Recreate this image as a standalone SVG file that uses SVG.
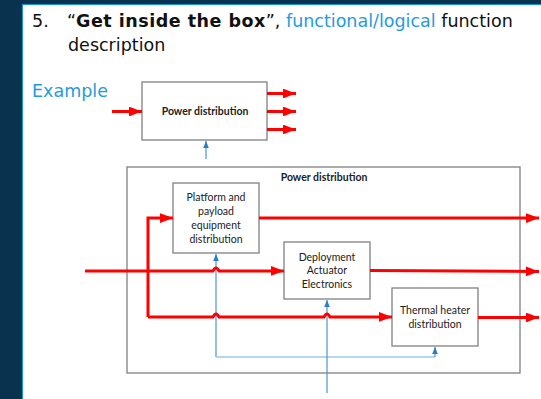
<svg xmlns="http://www.w3.org/2000/svg" width="541" height="399" viewBox="0 0 541 399">
<defs>
<style>
.title{font-family:"DejaVu Sans",sans-serif;font-size:17.5px;fill:#111}
.box{fill:#fff;stroke:#808080;stroke-width:1.3}
.lbl{font-family:Lato,"Liberation Sans",sans-serif;font-size:10.5px;fill:#222;text-anchor:middle}
.bold{font-weight:bold}
.red{fill:none;stroke:#ff0000;stroke-width:3}
.blue{fill:none;stroke:#4a96d4;stroke-width:1.2}
.blueL{fill:none;stroke:#9cc6e8;stroke-width:1.5}
</style>
<marker id="ar" viewBox="0 0 10 10" refX="10" refY="5" markerWidth="4.4" markerHeight="3.3" markerUnits="strokeWidth" orient="auto" preserveAspectRatio="none">
<path d="M0,0 L10,5 L0,10 z" fill="#ff0000"/>
</marker>
<marker id="ab" viewBox="0 0 10 10" refX="10" refY="5" markerWidth="6" markerHeight="6" markerUnits="strokeWidth" orient="auto">
<path d="M0,1 L10,5 L0,9 z" fill="#2a7cc4"/>
</marker>
</defs>
<rect x="0" y="0" width="541" height="399" fill="#08324e"/>
<rect x="22.5" y="4.5" width="530" height="400" fill="#fff" stroke="#1e8fd0" stroke-width="1.2"/>
<text class="title" y="27"><tspan x="32">5.</tspan><tspan x="67">“</tspan><tspan font-weight="bold" letter-spacing="0.5">Get inside the box</tspan><tspan>”, </tspan><tspan fill="#1f9bde">functional/logical</tspan><tspan> function</tspan></text>
<text class="title" x="68" y="51">description</text>
<text x="32" y="97" style="font-family:'DejaVu Sans',sans-serif;font-size:17.5px;fill:#1f9bde">Example</text>

<g id="top-box">
<rect class="box" x="142" y="82" width="125" height="58"/>
<text class="lbl bold" x="205" y="115">Power distribution</text>
</g>
<g id="outer-box">
<rect class="box" x="127" y="167" width="393" height="206"/>
<text class="lbl bold" x="324" y="181">Power distribution</text>
</g>
<g id="platform">
<rect class="box" x="173" y="183" width="86" height="70"/>
<text class="lbl" x="216" y="201">Platform and</text>
<text class="lbl" x="216" y="215">payload</text>
<text class="lbl" x="216" y="228.5">equipment</text>
<text class="lbl" x="216" y="242.5">distribution</text>
</g>
<g id="deployment">
<rect class="box" x="284" y="242" width="86" height="57"/>
<text class="lbl" x="327" y="260.5">Deployment</text>
<text class="lbl" x="327" y="274">Actuator</text>
<text class="lbl" x="327" y="287.5">Electronics</text>
</g>
<g id="thermal">
<rect class="box" x="392" y="288" width="86" height="58"/>
<text class="lbl" x="435" y="313.5">Thermal heater</text>
<text class="lbl" x="435" y="327.5">distribution</text>
</g>
<g id="connectors">
<path class="red" d="M112,111.5 H142" marker-end="url(#ar)"/>
<path class="red" d="M267,93.5 H296" marker-end="url(#ar)"/>
<path class="red" d="M267,111.5 H296" marker-end="url(#ar)"/>
<path class="red" d="M267,129.5 H296" marker-end="url(#ar)"/>
<path class="blue" d="M206,159 V141" marker-end="url(#ab)"/>

<path class="blue" d="M216,357 V254" marker-end="url(#ab)"/>
<path class="blueL" d="M216,357 H435"/>
<path class="blue" d="M435,357 V347" marker-end="url(#ab)"/>
<path class="blue" d="M327,393 V300" marker-end="url(#ab)"/>

<path class="red" d="M85,271 H213 Q216,265 219,271 H284" marker-end="url(#ar)"/>
<path class="red" d="M148,317 V218 H173" marker-end="url(#ar)"/>
<path class="red" d="M148,317 H213 Q216,311 219,317 H324 Q327,311 330,317 H392" marker-end="url(#ar)"/>
<path class="red" d="M259,218 H539" marker-end="url(#ar)"/>
<path class="red" d="M370,270.5 L539,271.5" marker-end="url(#ar)"/>
<path class="red" d="M478,317.5 H539" marker-end="url(#ar)"/>
</g>
</svg>
